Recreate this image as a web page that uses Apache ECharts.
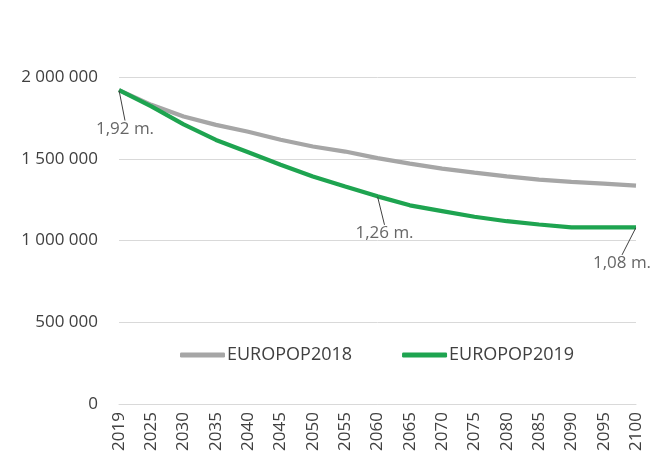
<!DOCTYPE html>
<html>
<head>
<meta charset="utf-8">
<script src="https://cdn.jsdelivr.net/npm/echarts@6/dist/echarts.min.js"></script>
<style>html,body{margin:0;padding:0;background:#fff}#c{width:657px;height:461px}</style>
</head>
<body>
<div id="c"></div>
<script>
const years = ['2019','2025','2030','2035','2040','2045','2050','2055','2060','2065','2070','2075','2080','2085','2090','2095','2100'];
const europop2018 = [1920000,1830000,1758000,1707000,1665000,1616000,1575000,1544000,1504000,1470000,1440000,1415000,1392000,1372000,1358000,1348000,1336000];
const europop2019 = [1920000,1820000,1710000,1615000,1540000,1463000,1391000,1330000,1270000,1215000,1180000,1145000,1118000,1098000,1080000,1080000,1080000];
const yTicks = [0,500000,1000000,1500000,2000000];
const annotYears = ['2019','2060','2100'];
const annotTexts = ['1,92 m.','1,26 m.','1,08 m.'];

const fmt = v => String(v).replace(/\B(?=(\d{3})+(?!\d))/g, ' ');
const FONT = 'Open Sans';
const TXT = '#404040';
const labelShift = [[6, 39], [7, 37], [-14, 36]];

const annotData = annotYears.map((y, i) => ({
  value: [y, europop2019[years.indexOf(y)]],
  label: {formatter: annotTexts[i]}
}));

const chart = echarts.init(document.getElementById('c'));
chart.setOption({
  animation: false,
  grid: {left: 119, right: 21, top: 77, bottom: 57, containLabel: false},
  legend: {
    data: ['EUROPOP2018', 'EUROPOP2019'],
    top: 341, left: 175,
    itemWidth: 45, itemHeight: 5, itemGap: 50,
    icon: 'roundRect',
    textStyle: {color: TXT, fontFamily: FONT, fontSize: 18, padding: [0,0,0,-3]}
  },
  xAxis: {
    type: 'category', data: years, boundaryGap: false,
    axisLine: {lineStyle: {color: '#d9d9d9'}},
    axisTick: {show: false},
    axisLabel: {rotate: 90, color: TXT, fontFamily: FONT, fontSize: 17, margin: 8, interval: 0}
  },
  yAxis: {
    type: 'value', min: yTicks[0], max: yTicks[yTicks.length-1], interval: 500000,
    axisLine: {show: false}, axisTick: {show: false},
    splitLine: {lineStyle: {color: '#d9d9d9'}},
    axisLabel: {formatter: fmt, color: TXT, fontFamily: FONT, fontSize: 17, margin: 21}
  },
  series: [
    {
      name: 'EUROPOP2018', type: 'line', data: europop2018,
      symbol: 'none', lineStyle: {color: '#a6a6a6', width: 4.2}, itemStyle: {color: '#a6a6a6'}
    },
    {
      name: 'EUROPOP2019', type: 'line', data: europop2019,
      symbol: 'none', lineStyle: {color: '#1ea450', width: 4.2}, itemStyle: {color: '#1ea450'},
      z: 3
    },
    {
      name: 'annotations', type: 'scatter', data: annotData,
      symbolSize: 1, itemStyle: {color: 'rgba(0,0,0,0)'}, z: 5,
      label: {show: true, position: 'inside', color: TXT, fontFamily: FONT, fontSize: 17},
      labelLine: {show: true, lineStyle: {color: '#404040', width: 1}},
      labelLayout: p => ({dx: labelShift[p.dataIndex][0], dy: labelShift[p.dataIndex][1]}),
      silent: true
    }
  ]
});
</script>
</body>
</html>
